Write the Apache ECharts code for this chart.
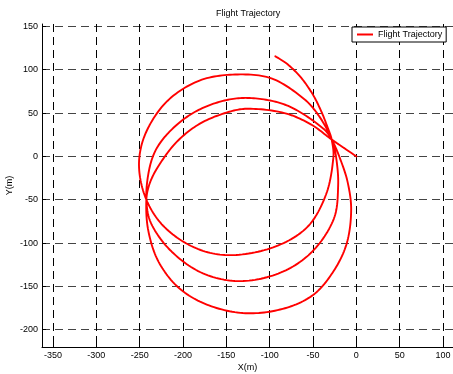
<!DOCTYPE html>
<html>
<head>
<meta charset="utf-8">
<script src="https://cdn.jsdelivr.net/npm/echarts@6/dist/echarts.min.js"></script>
<style>
  html, body { margin: 0; padding: 0; background: #fff; }
  #chart { width: 453px; height: 374px; }
</style>
</head>
<body>
<div id="chart"></div>
<script>
// Flight path segments in metres, listed in the order they were flown (clockwise turns).
const entryLeg = [[-93.5,115.5],[-79,106],[-63.5,90.5],[-50,71],[-40.5,52],[-33,33],[-28.5,19.5]];
const turn1South = [[-26.5,-1],[-35,-44],[-57,-82],[-96,-105],[-146,-114],[-185,-106],[-221,-82],[-242.3,-50]];
const turn1North = [[-250.8,-10],[-243,27],[-218,64],[-181,87.5],[-140,94.5],[-98,90],[-60,66],[-42,45],[-28.5,19.5]];
const turn2South = [[-23.5,0],[-21,-33],[-26,-72],[-51,-110],[-87,-134],[-134,-144],[-177,-135],[-213,-110],[-236.5,-78],[-242.3,-50]];
const turn2North = [[-239,-15],[-230,10],[-211,33],[-186,51.5],[-156,63.5],[-128,67.5],[-95,63.5],[-70,54],[-38,32],[-28.5,19.5]];
const turn3South = [[-19,-2],[-10,-30],[-6,-62],[-11,-100],[-26,-132],[-50,-160],[-85,-176],[-128,-181],[-170,-172],[-204,-152.5],[-228,-122],[-240,-86],[-242.3,-50]];
const turn3North = [[-238,-30],[-227,-9],[-207,17],[-181,37.5],[-150,50.5],[-125,55],[-83,50],[-52.5,37],[-28.5,19.5]];
const exitLeg = [[-14,9.5],[0,0]];

const xTicks = [-350,-300,-250,-200,-150,-100,-50,0,50,100];
const yTicks = [-200,-150,-100,-50,0,50,100,150];

const trajectory = [].concat(entryLeg, turn1South, turn1North, turn2South, turn2North, turn3South, turn3North, exitLeg);

// Smooth spline through the projected points (length-weighted Catmull-Rom, drawn as a fine polyline).
function splinePixels(pts, steps) {
  const out = [pts[0]];
  const dist = (a, b) => Math.hypot(b[0] - a[0], b[1] - a[1]) || 1e-6;
  const s = 1 / 3;
  for (let i = 0; i < pts.length - 1; i++) {
    const p0 = pts[i - 1] || pts[i];
    const p1 = pts[i];
    const p2 = pts[i + 1];
    const p3 = pts[i + 2] || pts[i + 1];
    const d01 = dist(p0, p1), d12 = dist(p1, p2), d23 = dist(p2, p3);
    const r1 = i === 0 ? 0 : d12 / (d01 + d12);
    const r2 = i + 2 >= pts.length ? 0 : d12 / (d12 + d23);
    const c1 = [p1[0] + (p2[0] - p0[0]) * s * r1, p1[1] + (p2[1] - p0[1]) * s * r1];
    const c2 = [p2[0] - (p3[0] - p1[0]) * s * r2, p2[1] - (p3[1] - p1[1]) * s * r2];
    for (let k = 1; k <= steps; k++) {
      const t = k / steps, u = 1 - t;
      out.push([
        u * u * u * p1[0] + 3 * u * u * t * c1[0] + 3 * u * t * t * c2[0] + t * t * t * p2[0],
        u * u * u * p1[1] + 3 * u * u * t * c1[1] + 3 * u * t * t * c2[1] + t * t * t * p2[1]
      ]);
    }
  }
  return out;
}

const font = 'Liberation Sans, Arial, sans-serif';
const chart = echarts.init(document.getElementById('chart'), null, { renderer: 'canvas' });

chart.setOption({
  animation: false,
  backgroundColor: '#fff',
  textStyle: { fontFamily: font },
  title: {
    text: 'Flight Trajectory',
    left: 216, top: 9,
    padding: 0,
    textStyle: { fontSize: 9, fontWeight: 'normal', color: '#000', fontFamily: font }
  },
  legend: {
    left: 352, top: 27,
    padding: [3, 4, 3, 5],
    itemWidth: 16, itemHeight: 2, itemGap: 0,
    borderColor: '#000', borderWidth: 1,
    backgroundColor: '#fff',
    textStyle: { fontSize: 9, color: '#000', fontFamily: font },
    data: [{ name: 'Flight Trajectory', icon: 'rect' }]
  },
  grid: { left: 42, top: 24, right: 0, bottom: 27, containLabel: false, outerBoundsMode: 'none' },
  xAxis: {
    type: 'value',
    min: -362.7, max: 111.5,
    name: 'X(m)', nameLocation: 'middle', nameGap: 16, nameMoveOverlap: false,
    nameTextStyle: { fontSize: 9, color: '#000', fontFamily: font },
    axisLine: { show: true, onZero: false, lineStyle: { color: '#000', width: 1 } },
    axisTick: { show: true, inside: true, length: 4, customValues: xTicks, lineStyle: { color: '#000' } },
    axisLabel: { customValues: xTicks, fontSize: 9, color: '#000', margin: 4, fontFamily: font },
    splitLine: { show: true, lineStyle: { color: '#000', type: [8, 5], width: 1 } }
  },
  yAxis: {
    type: 'value',
    min: -220, max: 152.8,
    name: 'Y(m)', nameLocation: 'middle', nameGap: 28, nameRotate: 90, nameMoveOverlap: false,
    nameTextStyle: { fontSize: 9, color: '#000', fontFamily: font },
    axisLine: { show: true, onZero: false, lineStyle: { color: '#000', width: 1 } },
    axisTick: { show: true, inside: true, length: 4, customValues: yTicks, lineStyle: { color: '#000' } },
    axisLabel: { customValues: yTicks, fontSize: 9, color: '#000', margin: 4, fontFamily: font },
    splitLine: { show: true, lineStyle: { color: '#444', type: [8, 5], width: 1 } }
  },
  series: [{
    name: 'Flight Trajectory',
    type: 'custom',
    data: trajectory,
    encode: { x: 0, y: 1 },
    itemStyle: { color: '#ff0000' },
    renderItem: function (params, api) {
      if (params.dataIndex !== 0) return null;
      const pixels = trajectory.map(function (p) { return api.coord(p); });
      return {
        type: 'polyline',
        shape: { points: splinePixels(pixels, 14) },
        style: { stroke: '#ff0000', lineWidth: 1.9, fill: null, lineJoin: 'round', lineCap: 'round' }
      };
    }
  }]
});
</script>
</body>
</html>
